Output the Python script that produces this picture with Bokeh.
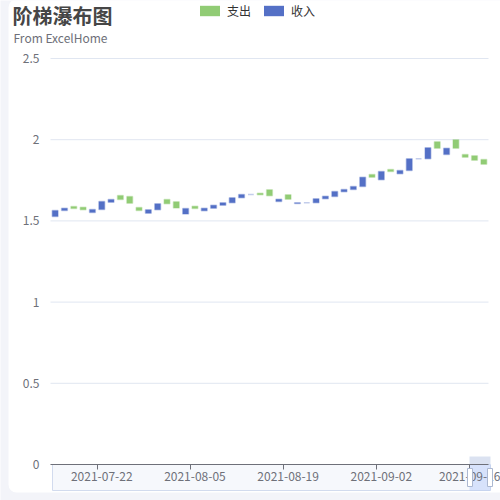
from bokeh.plotting import figure
from bokeh.models import (Range1d, FixedTicker, ColumnDataSource, Label, Legend,
                          LegendItem, LinearAxis)
from bokeh.embed import file_html
from bokeh.resources import INLINE

# ---------------- data ----------------
dates = [
    "2021-07-15", "2021-07-16", "2021-07-19", "2021-07-20", "2021-07-21",
    "2021-07-22", "2021-07-23", "2021-07-26", "2021-07-27", "2021-07-28",
    "2021-07-29", "2021-07-30", "2021-08-02", "2021-08-03", "2021-08-04",
    "2021-08-05", "2021-08-06", "2021-08-09", "2021-08-10", "2021-08-11",
    "2021-08-12", "2021-08-13", "2021-08-16", "2021-08-17", "2021-08-18",
    "2021-08-19", "2021-08-20", "2021-08-23", "2021-08-24", "2021-08-25",
    "2021-08-26", "2021-08-27", "2021-08-30", "2021-08-31", "2021-09-01",
    "2021-09-02", "2021-09-03", "2021-09-06", "2021-09-07", "2021-09-08",
    "2021-09-09", "2021-09-10", "2021-09-13", "2021-09-14", "2021-09-15",
    "2021-09-16", "2021-09-17",
]
# invisible helper series (bottom of each step)
base = [
    1.527, 1.564, 1.576, 1.569, 1.552, 1.570, 1.615, 1.632, 1.609, 1.564,
    1.547, 1.568, 1.605, 1.580, 1.542, 1.576, 1.562, 1.578, 1.597, 1.611,
    1.642, 1.662, 1.661, 1.655, 1.619, 1.634, 1.607, 1.611, 1.611, 1.636,
    1.650, 1.679, 1.693, 1.712, 1.769, 1.753, 1.804, 1.790, 1.810, 1.882,
    1.882, 1.948, 1.909, 1.948, 1.892, 1.874, 1.849,
]
# 收入 (income) step heights, None where not an income day
income = [
    0.037, 0.014, None, None, 0.018, 0.050, 0.017, None, None, None,
    0.021, 0.037, None, None, 0.034, None, 0.016, 0.019, 0.014, 0.031,
    0.020, 0.0, None, None, 0.015, None, 0.005, 0.0, 0.025, 0.016,
    0.031, 0.014, 0.019, 0.057, None, 0.051, None, 0.020, 0.072, 0.0,
    0.068, None, 0.039, None, None, None, None,
]
# 支出 (expense) step heights, None where not an expense day
expense = [
    None, None, 0.013, 0.015, None, None, None, 0.024, 0.041, 0.018,
    None, None, 0.027, 0.038, None, 0.014, None, None, None, None,
    None, None, 0.010, 0.037, None, 0.027, None, None, None, None,
    None, None, None, None, 0.017, None, 0.012, None, None, None,
    None, 0.039, None, 0.052, 0.017, 0.027, 0.029,
]
y_ticks = [0, 0.5, 1, 1.5, 2, 2.5]
label_every = 10
label_first = 5

# ---------------- style / layout ----------------
FONT = "Noto Sans CJK SC"
BLUE = "#5470c6"
GREEN = "#91cc75"
AXIS = "#6e7079"
GRID = "#e0e6f1"
PAGE = "#f3f4f9"

n = len(dates)
W, H = 500, 500
GL, GR, GT, GB = 50, 488, 58, 464          # grid box in pixels
cat_px = (GR - GL) / n                       # pixels per category
val_px = (GB - GT) / (y_ticks[-1] - y_ticks[0])  # pixels per unit

x_start = -0.5 - GL / cat_px
x_end = -0.5 + (W - GL) / cat_px
y_start = -(H - GB) / val_px
y_end = y_ticks[-1] + GT / val_px

p = figure(width=W, height=H, output_backend="svg", toolbar_location=None,
           x_range=Range1d(x_start, x_end), y_range=Range1d(y_start, y_end),
           x_axis_location=None, y_axis_location=None,
           min_border_left=0, min_border_right=0, min_border_top=0,
           min_border_bottom=0)
p.outline_line_color = None
p.background_fill_color = PAGE
p.border_fill_color = PAGE
p.xgrid.visible = False
p.ygrid.visible = False


def px_x(px):
    return -0.5 + (px - GL) / cat_px


def px_y(py):
    return (GB - py) / val_px


# white chart panel on the page background
p.quad(left=px_x(8), right=px_x(530), bottom=px_y(492), top=px_y(-1),
       fill_color="white", line_color=None, border_radius=8)

# horizontal split lines limited to the grid box
p.segment(x0=[-0.5] * len(y_ticks), x1=[n - 0.5] * len(y_ticks),
          y0=y_ticks, y1=y_ticks, line_color=GRID, line_width=1)

# ---------------- dataZoom-like slider (decoration) ----------------
p.quad(left=px_x(52), right=px_x(490), bottom=px_y(490), top=px_y(464),
       fill_color="#f6f8fc", line_color="#d2dbee", line_width=1)
p.quad(left=px_x(469), right=px_x(490), bottom=px_y(490), top=px_y(464),
       fill_color="#8fb0f7", fill_alpha=0.3, line_color=None)
p.quad(left=px_x(469), right=px_x(490), bottom=px_y(464), top=px_y(456),
       fill_color="#d2dbee", fill_alpha=0.8, line_color=None)

# ---------------- bars ----------------
inc_idx = [i for i, v in enumerate(income) if v is not None]
exp_idx = [i for i, v in enumerate(expense) if v is not None]
src_inc = ColumnDataSource(dict(x=inc_idx,
                                bottom=[base[i] for i in inc_idx],
                                top=[base[i] + income[i] for i in inc_idx]))
src_exp = ColumnDataSource(dict(x=exp_idx,
                                bottom=[base[i] for i in exp_idx],
                                top=[base[i] + expense[i] for i in exp_idx]))
r_exp = p.vbar(x="x", bottom="bottom", top="top", width=0.62, source=src_exp,
               fill_color=GREEN, line_color=GREEN, line_alpha=0.35, line_width=1.5)
r_inc = p.vbar(x="x", bottom="bottom", top="top", width=0.62, source=src_inc,
               fill_color=BLUE, line_color=BLUE, line_alpha=0.35, line_width=1.5)

# legend-only renderers (no border), one tiny bar placed outside the view
ox, oy = x_start - 3, y_start - 1
lg_exp = p.vbar(x=[ox], bottom=[oy], top=[oy - 0.1], width=0.5,
                fill_color=GREEN, line_color=None)
lg_inc = p.vbar(x=[ox], bottom=[oy], top=[oy - 0.1], width=0.5,
                fill_color=BLUE, line_color=None)

# ---------------- y axis at left edge of grid ----------------
yax = LinearAxis(fixed_location=-0.5, ticker=FixedTicker(ticks=y_ticks))
yax.major_label_overrides = {t: ("%g" % t) for t in y_ticks}
yax.axis_line_color = None
yax.major_tick_line_color = None
yax.minor_tick_line_color = None
yax.major_label_standoff = 5
yax.major_label_text_color = AXIS
yax.major_label_text_font = FONT
yax.major_label_text_font_size = "12px"
p.add_layout(yax, "left")

# ---------------- x axis at y = 0 ----------------
lab_idx = list(range(label_first, n, label_every))
xax = LinearAxis(fixed_location=0, bounds=(-0.5, n - 0.5),
                 ticker=FixedTicker(ticks=lab_idx, minor_ticks=[i - 0.5 for i in lab_idx]))
xax.major_label_overrides = {i: dates[i] for i in lab_idx}
xax.axis_line_color = AXIS
xax.major_tick_line_color = None
xax.major_tick_out = 0
xax.major_tick_in = 0
xax.minor_tick_line_color = AXIS
xax.minor_tick_out = 5
xax.minor_tick_in = 0
xax.major_label_standoff = 2
xax.major_label_text_color = AXIS
xax.major_label_text_font = FONT
xax.major_label_text_font_size = "12px"
p.add_layout(xax, "below")

# slider handles drawn above the axis labels
p.rect(x=[px_x(469.5), px_x(489.5)], y=[px_y(477), px_y(477)], width=5, height=18,
       width_units="screen", height_units="screen",
       fill_color="white", line_color="#acb8d1", line_width=1, level="overlay")

# ---------------- title / subtitle ----------------
p.add_layout(Label(x=12, y=H - 0, x_units="screen", y_units="screen",
                   text="阶梯瀑布图", text_font=FONT, text_font_size="20px",
                   text_font_style="bold", text_color="#464646",
                   text_baseline="top", text_align="left"))
p.add_layout(Label(x=13, y=H - 28, x_units="screen", y_units="screen",
                   text="From ExcelHome", text_font=FONT, text_font_size="12px",
                   text_color=AXIS, text_baseline="top", text_align="left"))

# ---------------- legend ----------------
legend = Legend(items=[LegendItem(label="支出", renderers=[lg_exp]),
                       LegendItem(label="收入", renderers=[lg_inc])],
                orientation="horizontal", location=(197, H - 19),
                glyph_width=25, glyph_height=13, label_standoff=5, spacing=10,
                padding=0, margin=0, border_line_color=None,
                background_fill_alpha=0, label_text_font=FONT,
                label_text_font_size="12px", label_text_color="#333333",
                label_height=13)
p.add_layout(legend, "center")

open("out.html", "w").write(file_html(p, INLINE))
